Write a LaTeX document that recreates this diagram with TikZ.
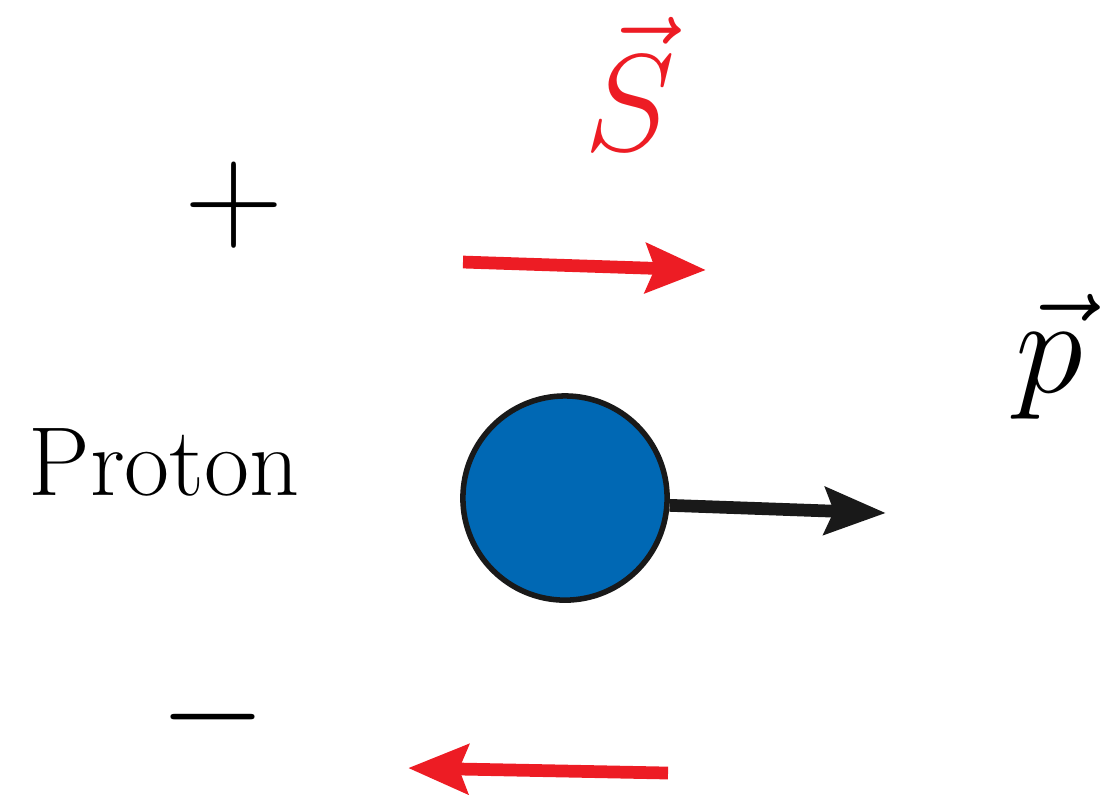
\documentclass[tikz,border=0pt]{standalone}
\usetikzlibrary{arrows.meta}
\definecolor{spinred}{RGB}{237,28,36}
\definecolor{protonblue}{RGB}{0,104,180}
\begin{document}
\begin{tikzpicture}[x=0.0635mm,y=-0.0635mm,line width=0.4pt,every node/.style={inner sep=0pt},
  spin/.style={draw=spinred,line width=2.3pt,-{Stealth[length=10.8pt,width=8.8pt,inset=1.6pt]}},
  mom/.style={draw=black!90,line width=2.3pt,-{Stealth[length=11pt,width=8.4pt,inset=1.6pt]}},
  big/.style={font=\fontsize{24}{28}\selectfont},
  sign/.style={font=\fontsize{25}{29}\selectfont,anchor=base}]
\useasboundingbox (0,0) rectangle (1103,794);
\coordinate (SA) at (463,262);
\coordinate (SB) at (706,270);
\coordinate (RA) at (668,773);
\coordinate (RB) at (408,768);
\coordinate (PT) at (886,513);
\node[circle,draw=black!90,line width=1pt,fill=protonblue,minimum size=36.9pt] (ball) at (565,498) {};
\draw[spin] (SA) -- (SB);
\draw[spin] (RA) -- (RB);
\draw[mom] (ball.-4) -- (PT);
\node[big,anchor=base,text=spinred] (S) at (630,150) {$\vec{S}$};
\node[big,anchor=base] (p) at (1049,392) {$\vec{p}$};
\node[sign] (plus) at (234,239) {$+$};
\node[sign] (minus) at (213,751) {$-$};
\node[font=\fontsize{17.7}{21}\selectfont,anchor=base] (name) at (164,495) {Proton};
\end{tikzpicture}
\end{document}
